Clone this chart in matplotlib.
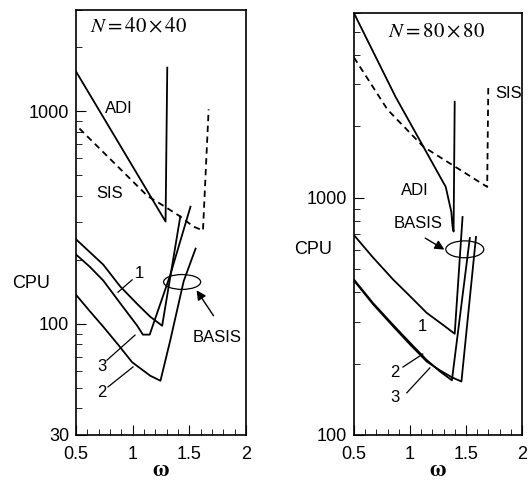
import matplotlib.pyplot as plt
from matplotlib.patches import Ellipse
from matplotlib.ticker import FixedLocator, NullFormatter, LogLocator

plt.rcParams['font.family'] = 'Liberation Sans'
plt.rcParams['mathtext.fontset'] = 'stix'

# ---- N = 40x40 (left panel) ----
adi_40_w = [0.5, 1.29, 1.305]
adi_40_v = [1540, 303, 1606]

sis_40_w = [0.53, 1.13, 1.27, 1.42, 1.535, 1.62, 1.67]
sis_40_v = [830, 400, 360, 320, 287, 275, 1022]

b1_40_w = [0.5, 0.62, 0.74, 0.89, 1.04, 1.155, 1.26, 1.42]
b1_40_v = [250, 218, 190, 150, 124, 108, 98, 320]

b3_40_w = [0.5, 0.62, 0.74, 0.89, 1.04, 1.09, 1.15, 1.33, 1.51]
b3_40_v = [212, 186, 160, 125, 98, 89, 89, 169, 356]

b2_40_w = [0.5, 0.62, 0.74, 0.87, 0.995, 1.155, 1.245, 1.33, 1.45, 1.555]
b2_40_v = [137, 115, 97, 80, 66, 57, 54, 83, 159, 226]

# ---- N = 80x80 (right panel) ----
adi_80_w = [0.5, 0.87, 1.12, 1.32, 1.37, 1.38, 1.39, 1.40]
adi_80_v = [6000, 2670, 1640, 1110, 870, 760, 720, 2535]

sis_80_w = [0.5, 0.8, 1.12, 1.415, 1.69, 1.70]
sis_80_v = [3900, 2350, 1640, 1340, 1110, 3000]

b1_80_w = [0.5, 0.67, 0.85, 1.0, 1.15, 1.30, 1.40, 1.47]
b1_80_v = [696, 560, 452, 385, 327, 290, 267, 829]

b2_80_w = [0.5, 0.67, 0.85, 1.0, 1.15, 1.27, 1.375, 1.535]
b2_80_v = [452, 360, 291, 245, 207, 185, 170, 676]

b3_80_w = [0.5, 0.67, 0.85, 1.0, 1.15, 1.27, 1.375, 1.46, 1.59]
b3_80_v = [448, 356, 287, 241, 204, 187, 175, 168, 683]

fig = plt.figure(figsize=(5.29, 4.83), dpi=100)
ax1 = fig.add_axes([0.1437, 0.0994, 0.3214, 0.88])
ax2 = fig.add_axes([0.669, 0.0994, 0.3176, 0.8737])

lw = 1.3
ax1.plot(adi_40_w, adi_40_v, color='black', lw=lw)
ax1.plot(sis_40_w, sis_40_v, color='black', lw=lw, ls=(0, (3.5, 2.5)))
ax1.plot(b1_40_w, b1_40_v, color='black', lw=lw)
ax1.plot(b2_40_w, b2_40_v, color='black', lw=lw)
ax1.plot(b3_40_w, b3_40_v, color='black', lw=lw)

ax2.plot(adi_80_w, adi_80_v, color='black', lw=lw)
ax2.plot(sis_80_w, sis_80_v, color='black', lw=lw, ls=(0, (3.5, 2.5)))
ax2.plot(b1_80_w, b1_80_v, color='black', lw=lw)
ax2.plot(b2_80_w, b2_80_v, color='black', lw=lw)
ax2.plot(b3_80_w, b3_80_v, color='black', lw=lw)

for ax, lo, hi, ticks in [(ax1, 30, 3000, [30, 100, 1000]),
                          (ax2, 100, 6000, [100, 1000])]:
    ax.set_yscale('log')
    ax.set_xlim(0.5, 2)
    ax.set_ylim(lo, hi)
    ax.yaxis.set_major_locator(FixedLocator(ticks))
    ax.set_yticklabels([str(t) for t in ticks])
    ax.yaxis.set_minor_locator(LogLocator(base=10, subs=range(2, 10)))
    ax.yaxis.set_minor_formatter(NullFormatter())
    ax.set_xticks([0.5, 1, 1.5, 2])
    ax.set_xticklabels(['0.5', '1', '1.5', '2'])
    ax.set_xticks([0.6, 0.7, 0.8, 0.9, 1.1, 1.2, 1.3, 1.4,
                   1.6, 1.7, 1.8, 1.9], minor=True)
    ax.tick_params(which='both', direction='in', labelsize=13, pad=5,
                   top=False, right=False)
    ax.tick_params(axis='x', which='both', pad=8)
    ax.tick_params(which='major', length=7)
    ax.tick_params(which='minor', length=4)
    for s in ax.spines.values():
        s.set_linewidth(1.2)
    ax.set_xlabel(r'$\mathbf{\omega}$', fontsize=16, labelpad=-2)

# left panel annotations
ax1.text(0.08, 0.96, r'$N = 40\times40$', transform=ax1.transAxes,
         fontsize=15, va='center', ha='left')
ax1.text(0.253, 0.769, 'ADI', transform=ax1.transAxes, fontsize=12,
         ha='center', va='center')
ax1.text(0.2, 0.569, 'SIS', transform=ax1.transAxes, fontsize=12,
         ha='center', va='center')
ax1.text(0.37, 0.38, '1', transform=ax1.transAxes, fontsize=12,
         ha='center', va='center')
ax1.text(0.15, 0.16, '3', transform=ax1.transAxes, fontsize=12,
         ha='center', va='center')
ax1.text(0.15, 0.10, '2', transform=ax1.transAxes, fontsize=12,
         ha='center', va='center')
ax1.plot([0.33, 0.247], [0.365, 0.336], transform=ax1.transAxes, color='black', lw=0.9)
ax1.plot([0.182, 0.347], [0.176, 0.235], transform=ax1.transAxes, color='black', lw=0.9)
ax1.plot([0.188, 0.335], [0.113, 0.16], transform=ax1.transAxes, color='black', lw=0.9)
ax1.add_patch(Ellipse((0.624, 0.36), 0.218, 0.035, transform=ax1.transAxes,
                      fill=False, lw=0.9, color='black'))
ax1.annotate('', xy=(0.70, 0.346), xytext=(0.818, 0.275),
             xycoords='axes fraction', textcoords='axes fraction',
             arrowprops=dict(arrowstyle='-|>', color='black', lw=1.0,
                             mutation_scale=14))
ax1.text(0.83, 0.23, 'BASIS', transform=ax1.transAxes, fontsize=12,
         ha='center', va='center')

# right panel annotations
ax2.text(0.2, 0.955, r'$N = 80\times80$', transform=ax2.transAxes,
         fontsize=15, va='center', ha='left')
ax2.text(0.363, 0.58, 'ADI', transform=ax2.transAxes, fontsize=12,
         ha='center', va='center')
ax2.text(0.92, 0.81, 'SIS', transform=ax2.transAxes, fontsize=12,
         ha='center', va='center')
ax2.text(0.41, 0.258, '1', transform=ax2.transAxes, fontsize=12,
         ha='center', va='center')
ax2.text(0.244, 0.149, '2', transform=ax2.transAxes, fontsize=12,
         ha='center', va='center')
ax2.text(0.244, 0.088, '3', transform=ax2.transAxes, fontsize=12,
         ha='center', va='center')
ax2.plot([0.292, 0.41], [0.161, 0.192], transform=ax2.transAxes, color='black', lw=0.9)
ax2.plot([0.315, 0.452], [0.10, 0.159], transform=ax2.transAxes, color='black', lw=0.9)
ax2.add_patch(Ellipse((0.66, 0.44), 0.226, 0.04, transform=ax2.transAxes,
                      fill=False, lw=0.9, color='black'))
ax2.annotate('', xy=(0.553, 0.436), xytext=(0.41, 0.47),
             xycoords='axes fraction', textcoords='axes fraction',
             arrowprops=dict(arrowstyle='-|>', color='black', lw=1.0,
                             mutation_scale=14))
ax2.text(0.38, 0.50, 'BASIS', transform=ax2.transAxes, fontsize=12,
         ha='center', va='center')

fig.text(31 / 529, 1 - 283 / 483, 'CPU', fontsize=13, ha='center', va='center')
fig.text(313 / 529, 1 - 249 / 483, 'CPU', fontsize=13, ha='center', va='center')

fig.savefig('out.png', dpi=100)
